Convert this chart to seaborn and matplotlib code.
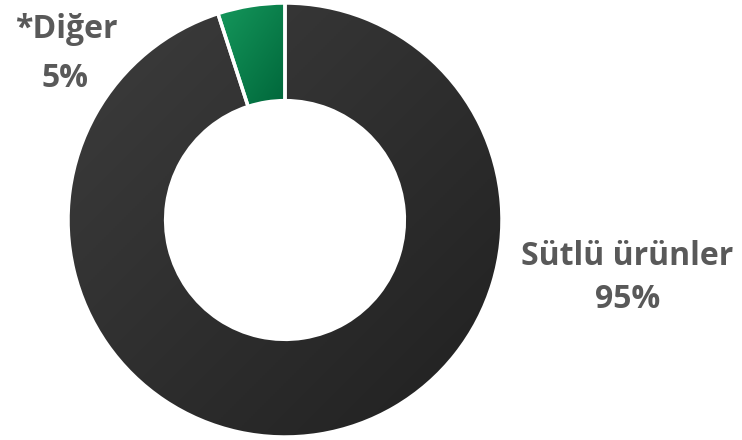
import matplotlib
matplotlib.use("Agg")
import matplotlib.pyplot as plt
import matplotlib.colors as mcolors
import numpy as np
import seaborn as sns

# data
categories = ['*Diğer', 'Sütlü ürünler']
shares = [5, 95]
# gradient ends per slice (light, dark)
grad_colors = [('#15985c', '#00663a'), ('#3d3d3d', '#202020')]

sns.set_theme(style="white")
plt.rcParams['font.family'] = ['Open Sans', 'DejaVu Sans']

fig = plt.figure(figsize=(7.42, 4.4), dpi=100)
# donut centre ~ (285, 220) px, radius ~217 px
ax = fig.add_axes([68 / 742, 3 / 440, 434 / 742, 434 / 440])
wedges, _ = ax.pie(shares, colors=[c[1] for c in grad_colors], startangle=90,
                   counterclock=True, radius=1.0,
                   wedgeprops=dict(width=0.45, edgecolor='white', linewidth=2.5))
ax.set_aspect('equal')
ax.axis('off')

# diagonal light->dark shading, clipped to each slice
yy, xx = np.mgrid[0:1:200j, 0:1:200j]
t = (xx + yy) / 2
for w, (c1, c2) in zip(wedges, grad_colors):
    cmap = mcolors.LinearSegmentedColormap.from_list('g', [c1, c2])
    bb = w.get_path().get_extents()
    img = ax.imshow(t, cmap=cmap, extent=[bb.x0, bb.x1, bb.y0, bb.y1], origin='upper',
                    interpolation='bilinear', zorder=1)
    img.set_clip_path(w)
    w.set_facecolor('none')
    w.set_zorder(3)
ax.set_xlim(-1, 1)
ax.set_ylim(-1, 1)

label_color = '#595959'
font = dict(ha='center', va='baseline', fontsize=23, fontweight='bold', color=label_color)
fig.text(66 / 742, 1 - 38 / 440, categories[0], **font)
fig.text(65 / 742, 1 - 87 / 440, f"{shares[0]}%", **font)
fig.text(627 / 742, 1 - 265 / 440, categories[1], **font)
fig.text(628 / 742, 1 - 308 / 440, f"{shares[1]}%", **font)

fig.savefig('out.png', dpi=100)
